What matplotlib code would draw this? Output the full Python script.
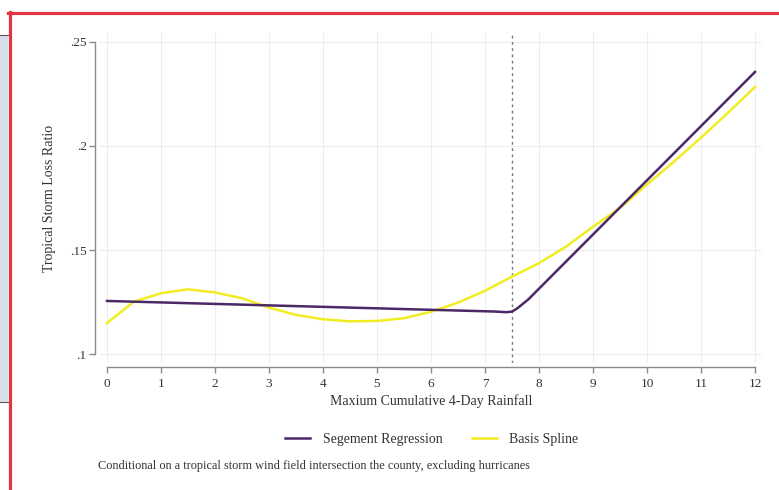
import matplotlib.pyplot as plt
from matplotlib.patches import Rectangle
from matplotlib.lines import Line2D

# data
seg_x = [0, 7.2, 7.4, 7.5, 7.6, 7.8, 12]
seg_y = [0.1255, 0.1204, 0.1201, 0.1204, 0.1220, 0.1262, 0.2356]

spline_x = [0, 0.5, 1, 1.5, 2, 2.5, 3, 3.5, 4, 4.5, 5, 5.5, 6, 6.5, 7, 7.5,
            8, 8.5, 9, 9.5, 10, 10.5, 11, 11.5, 12]
spline_y = [0.1149, 0.1252, 0.1292, 0.1311, 0.1296, 0.1268, 0.1223, 0.1188,
            0.1167, 0.1157, 0.1159, 0.1172, 0.1203, 0.1247, 0.1304, 0.1372,
            0.1437, 0.1516, 0.1612, 0.1702, 0.1815, 0.1925, 0.2040, 0.2160, 0.2284]

x_ticks = list(range(0, 13))
y_ticks = [0.1, 0.15, 0.2, 0.25]
y_labels = [".1", ".15", ".2", ".25"]
knot = 7.5

purple = "#4b2866"
yellow = "#f2ec22"
axis_gray = "#8a8a8a"

plt.rcParams["font.family"] = ["Liberation Serif", "DejaVu Serif"]

W, H = 779, 490
fig = plt.figure(figsize=(W / 100, H / 100), dpi=100)
fig.patch.set_facecolor("white")

# plot region in pixels
left_px, right_px, top_px, bot_px = 100, 762, 33, 363
ax = fig.add_axes([left_px / W, 1 - bot_px / H, (right_px - left_px) / W, (bot_px - top_px) / H])
ax.set_xlim(-7 / 54, 12 + 7 / 54)
ax.set_ylim(0.1 - 9 / 2080, 0.25 + 9 / 2080)

# faint grid
for xv in x_ticks:
    ax.axvline(xv, color="#ededed", lw=0.8, zorder=0)
for yv in y_ticks:
    ax.axhline(yv, color="#ededed", lw=0.8, zorder=0)

ax.axvline(knot, color="#777777", lw=1.0, ls=(0, (2, 2.5)), zorder=1)

ax.plot(seg_x, seg_y, color=purple, lw=1.8, solid_joinstyle="round", zorder=3,
        label="Segement Regression")
ax.plot(spline_x, spline_y, color=yellow, lw=1.8, solid_joinstyle="round", zorder=2,
        label="Basis Spline")

for s in ["top", "right"]:
    ax.spines[s].set_visible(False)
ax.spines["left"].set_position(("axes", -5 / 662))
ax.spines["bottom"].set_position(("axes", -4 / 330))
ax.spines["left"].set_bounds(0.1, 0.25)
ax.spines["bottom"].set_bounds(0, 12)
for s in ["left", "bottom"]:
    ax.spines[s].set_color(axis_gray)
    ax.spines[s].set_linewidth(1.0)

ax.set_xticks(x_ticks)
ax.set_yticks(y_ticks)
ax.set_yticklabels(y_labels)
ax.tick_params(axis="both", colors=axis_gray, labelcolor="#333333", labelsize=9.5,
               length=4, width=1.0)
ax.tick_params(axis="y", pad=2)
ax.tick_params(axis="x", pad=4)

ax.set_xlabel("Maxium Cumulative 4-Day Rainfall", fontsize=10, color="#333333", labelpad=3)
ax.set_ylabel("Tropical Storm Loss Ratio", fontsize=10, color="#333333", labelpad=10)

fig.legend(loc="center", bbox_to_anchor=(432 / W, 1 - 439 / H), ncol=2, frameon=False,
           fontsize=10, handlelength=1.8, handletextpad=0.9, columnspacing=2.1,
           labelcolor="#333333")

fig.text(98 / W, 1 - 466 / H,
         "Conditional on a tropical storm wind field intersection the county, excluding hurricanes",
         fontsize=8.8, color="#333333", va="center", ha="left")

# screenshot frame: grey strip on the left and red border
fig.add_artist(Rectangle((0, 1 - 402 / H), 8 / W, 367 / H, transform=fig.transFigure,
                         facecolor="#d6dee9", edgecolor="none"))
fig.add_artist(Line2D([0, 8 / W], [1 - 35 / H] * 2, transform=fig.transFigure,
                      color="#555555", lw=0.8))
fig.add_artist(Line2D([0, 8 / W], [1 - 402 / H] * 2, transform=fig.transFigure,
                      color="#555555", lw=0.8))
fig.add_artist(Line2D([8 / W, 1], [1 - 13.5 / H] * 2, transform=fig.transFigure,
                      color="#e4343f", lw=2.3))
fig.add_artist(Line2D([9.5 / W] * 2, [0, 1 - 12 / H], transform=fig.transFigure,
                      color="#e4343f", lw=2.3))

fig.savefig("out.png", dpi=100)
